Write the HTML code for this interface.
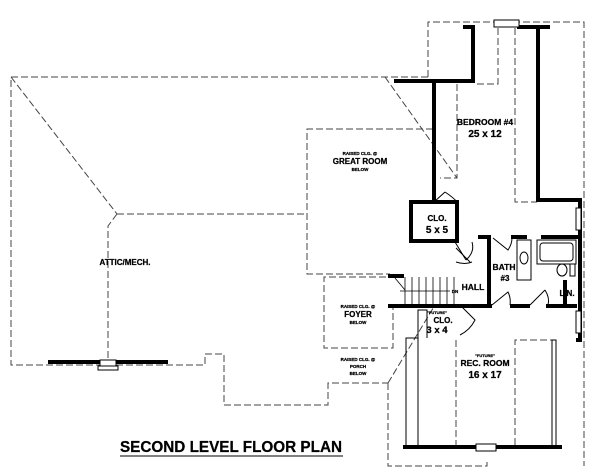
<!DOCTYPE html>
<html><head><meta charset="utf-8"><style>
html,body{margin:0;padding:0;background:#fff;}
svg{display:block;}
text{font-family:"Liberation Sans",Arial,sans-serif;font-weight:bold;fill:#000;text-anchor:middle;stroke:#000;stroke-width:0.25;}
</style></head><body>
<svg width="600" height="472" viewBox="0 0 600 472" xmlns="http://www.w3.org/2000/svg">
<g fill="none" stroke="#444" stroke-width="1" stroke-dasharray="7,3">
<polyline points="428,77 11,77 11,365 205,365 205,354 224,354 224,405 328,405 328,383 388,383"/>
<polyline points="428,77 428,22 584,22 584,466"/>
<polyline points="388,383 388,466 487,466 487,462"/>
<line x1="11" y1="77" x2="117" y2="214"/>
<polyline points="117,214 108,226 108,362"/>
<line x1="117" y1="214" x2="307" y2="214"/>
<polyline points="433,129 307,129 307,274 390,274"/>
<polyline points="396,277 324,277 324,348 393,348 393,308"/>
<line x1="388" y1="383" x2="435" y2="305"/>
<line x1="385" y1="77" x2="457" y2="178"/>
<polyline points="457,84 457,178 440,178"/>
<polyline points="498,28 498,84 474,84"/>
<polyline points="515,28 515,202 537,202"/>
<line x1="456" y1="340" x2="456" y2="445"/>
<polyline points="515,445 515,340 552,340"/>
</g>
<g fill="none" stroke="#000" stroke-width="4" stroke-linecap="square">
<polyline points="465,27 473,27 473,81 396,81"/>
<line x1="434" y1="81" x2="434" y2="202"/>
<polyline points="519,27 548,27"/>
<polyline points="538,27 538,200 580,200 580,340 578,340"/>
<rect x="411" y="202" width="46" height="39"/>
<line x1="489" y1="238" x2="489" y2="306"/>
<line x1="480" y1="237" x2="489" y2="237"/>
<line x1="513" y1="237" x2="525" y2="237"/>
<line x1="543" y1="237" x2="578" y2="237"/>
<line x1="390" y1="306" x2="490" y2="306"/>
<line x1="390" y1="276" x2="402" y2="276"/>
<line x1="512" y1="306" x2="528" y2="306"/>
<line x1="548" y1="306" x2="575" y2="306"/>
<line x1="405" y1="447" x2="476" y2="447"/>
<line x1="496" y1="447" x2="560" y2="447"/>
<line x1="50" y1="362" x2="100" y2="362"/>
<line x1="116" y1="362" x2="166" y2="362"/>
<line x1="565" y1="282" x2="565" y2="306"/>
</g>
<g fill="#fff" stroke="#000" stroke-width="1">
<rect x="494" y="20" width="25" height="7"/>
<rect x="576" y="208" width="5" height="22"/>
<rect x="576" y="311" width="5" height="22"/>
<rect x="476" y="444" width="20" height="7"/>
<rect x="100" y="360" width="16" height="6"/>
<rect x="98" y="366" width="20" height="4"/>
</g>
<g stroke="#000" stroke-width="1" fill="none">
<polyline points="406,445 406,338 418,338 418,445"/>
<polyline points="552,445 552,340 556,340 556,445"/>
<polyline points="418,338 418,310 427,310 427,338"/>
<g stroke-width="0.8">
<line x1="405" y1="277" x2="405" y2="305"/><line x1="412" y1="277" x2="412" y2="305"/>
<line x1="419" y1="277" x2="419" y2="305"/><line x1="426" y1="277" x2="426" y2="305"/>
<line x1="433" y1="277" x2="433" y2="305"/><line x1="440" y1="277" x2="440" y2="305"/>
<line x1="447" y1="277" x2="447" y2="305"/><line x1="454" y1="277" x2="454" y2="305"/>
<line x1="400" y1="291" x2="450" y2="291"/>
<line x1="395" y1="278" x2="405" y2="290"/>
</g>
<path d="M434,202 L445,192 M445,192 Q454,198 457,202"/>
<path d="M455,242 L466,260 M466,260 Q475,252 472,242"/>
<path d="M456,248 L470,262 M456,262 Q465,265 472,262"/>
<path d="M460,305 L475,320 Q470,330 460,335"/>
<path d="M493,238 L508,250 Q512,244 512,238"/>
<path d="M492,305 L508,292 Q511,298 510,305"/>
<path d="M530,305 L545,290 M545,290 Q550,298 548,305"/>
<rect x="517" y="240" width="14" height="40"/>
<ellipse cx="524" cy="258" rx="4" ry="6"/>
<rect x="537" y="240" width="39" height="24"/>
<rect x="540" y="243" width="33" height="18" rx="3"/>
<ellipse cx="562" cy="270" rx="5" ry="6"/>
<rect x="570" y="264" width="5" height="12"/>
</g>
<text x="125" y="265" font-size="8">ATTIC/MECH.</text>
<text x="360" y="155" font-size="4.5">RAISED CLG. @</text>
<text x="360" y="164" font-size="8">GREAT ROOM</text>
<text x="360" y="171" font-size="4.5">BELOW</text>
<text x="485" y="125" font-size="8.5">BEDROOM #4</text>
<text x="485" y="137" font-size="10">25 x 12</text>
<text x="437" y="221" font-size="8">CLO.</text>
<text x="437" y="233" font-size="10">5 x 5</text>
<text x="504" y="270" font-size="8.5">BATH</text>
<text x="505" y="281" font-size="8">#3</text>
<text x="473" y="290" font-size="8.5">HALL</text>
<text x="455" y="293" font-size="4.5">DN</text>
<text x="567" y="296" font-size="8">LIN.</text>
<text x="358" y="308" font-size="4.5">RAISED CLG. @</text>
<text x="358" y="317" font-size="8">FOYER</text>
<text x="358" y="324" font-size="4.5">BELOW</text>
<text x="437" y="314" font-size="4">"FUTURE"</text>
<text x="443" y="323" font-size="8">CLO.</text>
<text x="437" y="333" font-size="9.5">3 x 4</text>
<text x="358" y="361" font-size="4.5">RAISED CLG. @</text>
<text x="358" y="368" font-size="4.5">PORCH</text>
<text x="358" y="375" font-size="4.5">BELOW</text>
<text x="485" y="357" font-size="4">"FUTURE"</text>
<text x="485" y="366" font-size="8.5">REC. ROOM</text>
<text x="485" y="378" font-size="10">16 x 17</text>
<text x="231" y="452" font-size="15.5" textLength="222" lengthAdjust="spacingAndGlyphs">SECOND LEVEL FLOOR PLAN</text>
<line x1="120" y1="456" x2="343" y2="456" stroke="#000" stroke-width="1"/>
</svg>
</body></html>
